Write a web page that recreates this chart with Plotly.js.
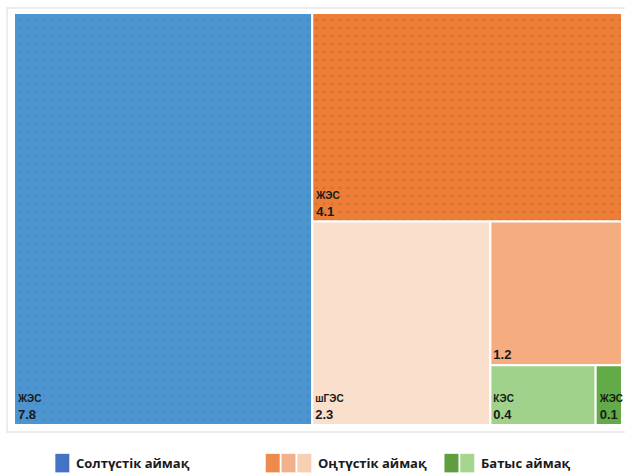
<!DOCTYPE html>
<html>
<head>
<meta charset="utf-8">
<script src="https://cdn.plot.ly/plotly-3.0.1.min.js"></script>
<style>html,body{margin:0;padding:0;background:#fff;}#chart{width:625px;height:476px;}</style>
</head>
<body>
<div id="chart"></div>
<script>
// Data
const ids = ["north-ЖЭС", "south-ЖЭС", "south-шГЭС", "south-ГЭС", "west-КЭС", "west-ЖЭС"];
const labels = ["ЖЭС", "ЖЭС", "шГЭС", "", "КЭС", "ЖЭС"];
const regions = ["Солтүстік аймақ", "Оңтүстік аймақ", "Оңтүстік аймақ", "Оңтүстік аймақ", "Батыс аймақ", "Батыс аймақ"];
const values = [7.8, 4.1, 2.3, 1.2, 0.4, 0.1];
const tileColors = ["#4B95D2", "#EF7D33", "#FADFCC", "#F4AC80", "#A1D28B", "#63AA48"];
const legendNames = ["Солтүстік аймақ", "Оңтүстік аймақ", "Батыс аймақ"];
const legendSwatches = [["#4472C4"], ["#EE8A4C", "#F3B18B", "#F7CFB4"], ["#5F9D3F", "#A6D58D"]];

const parents = ids.map(() => "");
const texts = labels.map((l, i) => (l ? "<span style='font-size:10px'>" + l + "</span><br>" : "") + values[i].toFixed(1));

const trace = {
  type: "treemap",
  ids: ids,
  labels: labels,
  parents: parents,
  values: values,
  text: texts,
  texttemplate: "<b>%{text}</b>",
  hovertemplate: "%{customdata}<br>%{label}: %{value}<extra></extra>",
  customdata: regions,
  textposition: "bottom left",
  textfont: { family: "Liberation Sans, Arial, sans-serif", size: 13, color: "#1a1a1a" },
  marker: {
    colors: tileColors,
    line: { color: "#ffffff", width: 2 },
    pad: { t: 0, l: 0, r: 0, b: 0 },
    pattern: {
      shape: ".",
      bgcolor: tileColors,
      fgcolor: ["rgba(110,110,110,0.3)", "rgba(110,110,110,0.35)", "rgba(0,0,0,0)", "rgba(0,0,0,0)", "rgba(0,0,0,0)", "rgba(0,0,0,0)"],
      size: 8, solidity: 0.1
    }
  },
  tiling: { packing: "squarify", squarifyratio: 1, pad: 0 },
  sort: true,
  pathbar: { visible: false },
  root: { color: "#ffffff" },
  domain: { x: [0, 1], y: [0, 1] }
};

// Legend drawn in paper coordinates
const shapes = [];
const annotations = [];
const legendX = [0.068, 0.414, 0.708];
const swW = 0.023, swGap = 0.003;
legendSwatches.forEach((sw, g) => {
  let x = legendX[g];
  sw.forEach(c => {
    shapes.push({ type: "rect", xref: "paper", yref: "paper", x0: x, x1: x + swW, y0: -0.115, y1: -0.07, fillcolor: c, line: { width: 0 } });
    x += swW + swGap;
  });
  annotations.push({
    xref: "paper", yref: "paper", x: x + 0.005, y: -0.0925, xanchor: "left", yanchor: "middle",
    text: "<b>" + legendNames[g] + "</b>", showarrow: false,
    font: { family: "Open Sans, Arial, sans-serif", size: 13, color: "#1a1a1a" }
  });
});
// light frame around chart area
shapes.push({ type: "rect", xref: "paper", yref: "paper", x0: -0.0115, x1: 1.01, y0: -0.017, y1: 1.012, line: { color: "#e8e8e8", width: 1.5 }, fillcolor: "rgba(0,0,0,0)", layer: "below" });

const layout = {
  width: 625, height: 476,
  margin: { l: 14, r: 3, t: 13, b: 51 },
  paper_bgcolor: "#ffffff",
  showlegend: false,
  uniformtext: { mode: "show", minsize: 13 },
  shapes: shapes,
  annotations: annotations
};

Plotly.newPlot("chart", [trace], layout, { displayModeBar: false, staticPlot: true });
</script>
</body>
</html>
